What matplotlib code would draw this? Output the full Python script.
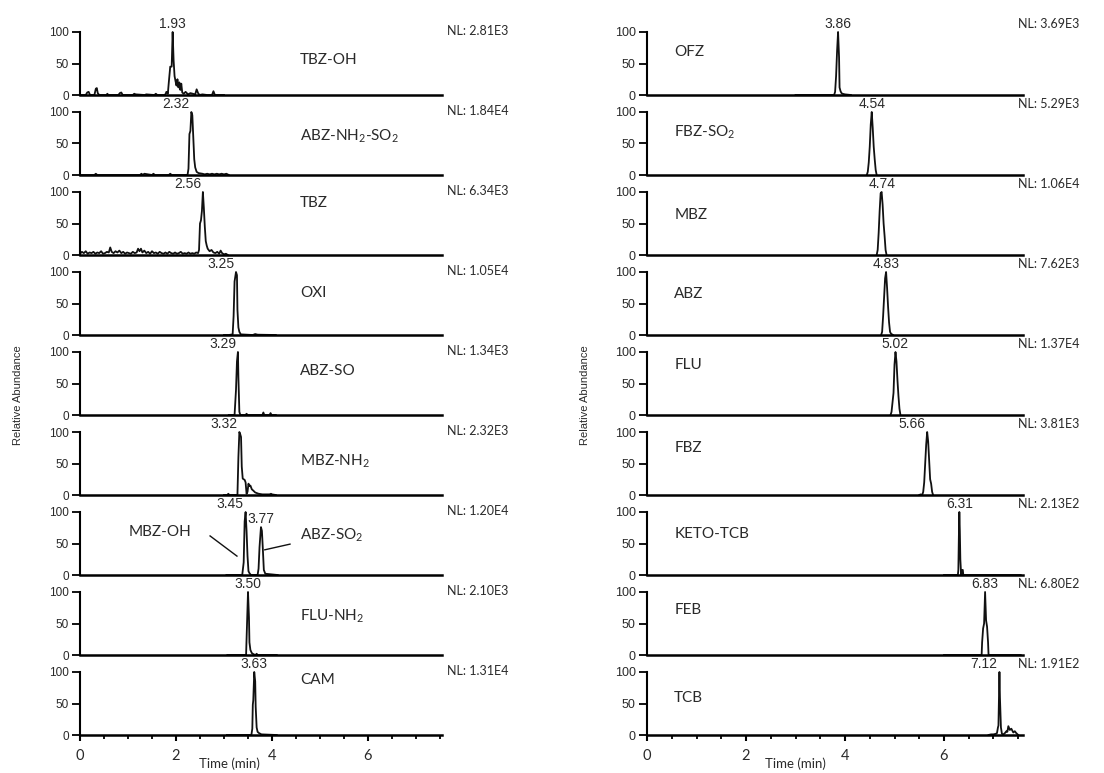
import numpy as np
import matplotlib
matplotlib.use('Agg')
import matplotlib.pyplot as plt
from matplotlib.ticker import MultipleLocator

# === traces: (time [min], relative abundance [%]) ===
tbz_oh = [(0.00, 0), (0.12, 0), (0.15, 4), (0.18, 5), (0.21, 0), (0.30, 0), (0.33, 10), (0.35, 11),
          (0.37, 3), (0.40, 0), (0.55, 0), (0.57, 2), (0.59, 0), (0.80, 0), (0.83, 3), (0.86, 4),
          (0.89, 0), (1.10, 0), (1.13, 2), (1.16, 1), (1.35, 0), (1.38, 1), (1.55, 0), (1.58, 2),
          (1.61, 0), (1.75, 0), (1.78, 1), (1.80, 5), (1.83, 2), (1.85, 20), (1.88, 45), (1.91, 45),
          (1.93, 100), (1.95, 55), (1.97, 30), (1.99, 22), (2.01, 15), (2.03, 25), (2.05, 12),
          (2.07, 20), (2.09, 8), (2.11, 18), (2.13, 4), (2.16, 2), (2.20, 5), (2.25, 1), (2.30, 3),
          (2.40, 1), (2.43, 9), (2.46, 3), (2.49, 0), (2.55, 1), (2.65, 0), (2.75, 0), (2.78, 6),
          (2.81, 0), (3.00, 0)]
abz_nh2_so2 = [(0.00, 0), (0.30, 0), (0.33, 2), (0.36, 0), (1.25, 0), (1.28, 2), (1.31, 0), (1.34, 2),
               (1.50, 0), (1.53, 2), (1.56, 0), (1.85, 0), (1.88, 2), (1.91, 0), (2.24, 0), (2.26, 10),
               (2.28, 65), (2.30, 70), (2.32, 100), (2.34, 95), (2.36, 60), (2.38, 25), (2.40, 12),
               (2.43, 5), (2.47, 3), (2.55, 2), (2.60, 1), (2.65, 2), (2.70, 1), (2.75, 2), (2.80, 1),
               (2.85, 2), (2.90, 1), (2.95, 2), (3.00, 1), (3.05, 2), (3.10, 0)]
tbz = [(0.00, 2), (0.04, 5), (0.08, 3), (0.12, 6), (0.16, 2), (0.20, 4), (0.24, 3), (0.28, 5),
       (0.32, 2), (0.36, 4), (0.40, 3), (0.44, 6), (0.48, 2), (0.52, 3), (0.56, 5), (0.60, 4),
       (0.63, 12), (0.66, 5), (0.70, 3), (0.74, 6), (0.78, 4), (0.82, 7), (0.86, 3), (0.90, 5),
       (0.94, 2), (0.98, 4), (1.02, 3), (1.06, 2), (1.10, 5), (1.14, 3), (1.18, 4), (1.21, 10),
       (1.24, 6), (1.27, 10), (1.30, 4), (1.34, 7), (1.38, 3), (1.42, 5), (1.46, 2), (1.50, 6),
       (1.54, 3), (1.58, 4), (1.62, 2), (1.66, 5), (1.70, 3), (1.74, 2), (1.78, 4), (1.82, 2),
       (1.86, 5), (1.90, 3), (1.94, 2), (1.98, 4), (2.02, 2), (2.06, 3), (2.10, 5), (2.14, 2),
       (2.18, 3), (2.22, 2), (2.26, 4), (2.30, 2), (2.34, 3), (2.38, 2), (2.42, 4), (2.46, 3),
       (2.48, 8), (2.50, 50), (2.52, 55), (2.54, 70), (2.56, 100), (2.58, 75), (2.60, 45),
       (2.62, 22), (2.64, 15), (2.66, 10), (2.70, 6), (2.74, 8), (2.78, 4), (2.82, 3), (2.86, 5),
       (2.90, 2), (2.93, 7), (2.96, 3), (3.00, 1), (3.04, 2), (3.08, 0)]
oxi = [(3.00, 0), (3.10, 0), (3.18, 1), (3.20, 30), (3.22, 85), (3.25, 100), (3.27, 95), (3.28, 40),
       (3.30, 12), (3.32, 5), (3.35, 1), (3.60, 0), (3.65, 1.5), (3.70, 0.5), (4.08, 0)]
abz_so = [(3.10, 0), (3.22, 0), (3.25, 40), (3.27, 85), (3.29, 100), (3.30, 60), (3.32, 5), (3.34, 0),
          (3.45, 0), (3.47, 2), (3.49, 0), (3.80, 0), (3.82, 4), (3.84, 0), (3.95, 0), (3.97, 3),
          (3.99, 0), (4.08, 0)]
mbz_nh2 = [(3.00, 0), (3.07, 0), (3.09, 2), (3.11, 0), (3.28, 0), (3.30, 60), (3.32, 100), (3.34, 96),
           (3.355, 92), (3.37, 45), (3.39, 26), (3.43, 24), (3.45, 20), (3.47, 2), (3.49, 5),
           (3.51, 18), (3.53, 14), (3.55, 15), (3.58, 9), (3.61, 7), (3.65, 4), (3.72, 2), (3.80, 1),
           (3.95, 1), (3.98, 2), (4.00, 1), (4.08, 0)]
mbz_oh_abz_so2 = [(3.05, 0), (3.38, 0), (3.41, 20), (3.43, 85), (3.45, 100), (3.47, 70), (3.49, 30),
                  (3.51, 6), (3.53, 3), (3.56, 0), (3.70, 0), (3.72, 10), (3.74, 44), (3.75, 55),
                  (3.77, 76), (3.79, 70), (3.81, 40), (3.83, 8), (3.86, 2), (4.12, 0)]
flu_nh2 = [(3.07, 0), (3.46, 0), (3.48, 50), (3.50, 100), (3.52, 60), (3.53, 20), (3.55, 8),
           (3.58, 3), (3.62, 1), (3.66, 0), (3.68, 2), (3.70, 0), (4.10, 0)]
cam = [(3.06, 0), (3.57, 0), (3.59, 10), (3.60, 48), (3.61, 55), (3.63, 100), (3.65, 85), (3.66, 45),
       (3.68, 12), (3.70, 5), (3.73, 3), (3.78, 1), (4.10, 0)]

ofz = [(3.00, 0), (3.78, 0), (3.80, 5), (3.82, 30), (3.84, 70), (3.86, 100), (3.88, 60), (3.89, 12),
       (3.91, 6), (3.93, 3), (3.95, 2), (4.00, 1), (4.12, 0)]
fbz_so2 = [(4.44, 0), (4.46, 5), (4.48, 20), (4.50, 45), (4.52, 80), (4.54, 100), (4.56, 75),
           (4.58, 45), (4.60, 25), (4.62, 8), (4.64, 0)]
mbz = [(4.64, 0), (4.66, 8), (4.68, 35), (4.70, 70), (4.72, 98), (4.74, 100), (4.76, 80), (4.78, 50),
       (4.80, 30), (4.82, 8), (4.84, 0)]
abz = [(4.73, 0), (4.75, 5), (4.77, 30), (4.79, 60), (4.81, 90), (4.83, 100), (4.85, 75), (4.87, 45),
       (4.89, 20), (4.91, 5), (4.93, 2), (4.97, 0)]
flu = [(4.92, 0), (4.94, 5), (4.96, 20), (4.98, 35), (5.00, 80), (5.02, 100), (5.04, 85), (5.06, 55),
       (5.08, 30), (5.10, 10), (5.12, 0)]
fbz = [(5.50, 0), (5.53, 1), (5.56, 0), (5.58, 5), (5.60, 20), (5.62, 50), (5.64, 80), (5.66, 100),
       (5.68, 85), (5.70, 55), (5.72, 25), (5.74, 18), (5.76, 5), (5.78, 0)]
keto_tcb = [(6.00, 0), (6.28, 0), (6.29, 8), (6.30, 60), (6.31, 100), (6.32, 70), (6.33, 25),
            (6.34, 10), (6.35, 0), (6.36, 8), (6.38, 8), (6.39, 0), (7.55, 0)]
feb = [(6.00, 0), (6.76, 0), (6.77, 20), (6.79, 42), (6.81, 50), (6.83, 100), (6.85, 55), (6.87, 45),
       (6.89, 20), (6.90, 0), (7.55, 0)]
tcb = [(6.90, 0), (6.95, 1), (7.00, 1), (7.05, 2), (7.07, 3), (7.09, 12), (7.10, 15), (7.12, 100),
       (7.13, 60), (7.15, 12), (7.17, 2), (7.20, 1), (7.23, 3), (7.26, 6), (7.28, 5), (7.30, 14),
       (7.33, 8), (7.36, 10), (7.40, 4), (7.43, 6), (7.46, 3), (7.50, 0)]

left_traces = [tbz_oh, abz_nh2_so2, tbz, oxi, abz_so, mbz_nh2, mbz_oh_abz_so2, flu_nh2, cam]
right_traces = [ofz, fbz_so2, mbz, abz, flu, fbz, keto_tcb, feb, tcb]

left_names = ['TBZ-OH', r'ABZ-NH$_2$-SO$_2$', 'TBZ', 'OXI', 'ABZ-SO', r'MBZ-NH$_2$', '',
              r'FLU-NH$_2$', 'CAM']
right_names = ['OFZ', r'FBZ-SO$_2$', 'MBZ', 'ABZ', 'FLU', 'FBZ', 'KETO-TCB', 'FEB', 'TCB']

left_nl = ['2.81E3', '1.84E4', '6.34E3', '1.05E4', '1.34E3', '2.32E3', '1.20E4', '2.10E3', '1.31E4']
right_nl = ['3.69E3', '5.29E3', '1.06E4', '7.62E3', '1.37E4', '3.81E3', '2.13E2', '6.80E2', '1.91E2']

left_rt = [[1.93], [2.32], [2.56], [3.25], [3.29], [3.32], [3.45, 3.77], [3.50], [3.63]]
right_rt = [[3.86], [4.54], [4.74], [4.83], [5.02], [5.66], [6.31], [6.83], [7.12]]

# === label placement ===
left_rt_ha = [['center'], ['right'], ['right'], ['right'], ['right'], ['right'],
              ['right', 'center'], ['center'], ['center']]
right_rt_ha = [['center'], ['center'], ['center'], ['center'], ['center'], ['right'],
               ['center'], ['center'], ['right']]
left_name_y = [56, 62, 83, 66, 70, 53, 0, 62, 87]
right_name_y = [68, 68, 63, 65, 79, 75, 65, 71, 58]

# === figure setup ===
W, H = 1104, 773
fig = plt.figure(figsize=(W / 100, H / 100), dpi=100)
plt.rcParams['mathtext.fontset'] = 'custom'
plt.rcParams['mathtext.rm'] = 'Lato'
plt.rcParams['mathtext.it'] = 'Lato:italic'

ink = '#111111'
txt = '#2a2a2a'
px_per_unit = 0.63
panel_zero = [95 + 80 * i for i in range(9)]


def draw_column(traces, names, nls, rts, rt_ha, name_y, x0, px_per_min, xmax, name_x,
                nl_x, nl_y, tick_size):
    width = xmax * px_per_min
    axes = []
    for i, trace in enumerate(traces):
        zero = panel_zero[i]
        ax = fig.add_axes([x0 / W, 1 - (zero + 3) / H, width / W, 80 / H])
        ax.set_facecolor('none')
        ax.set_xlim(0, xmax)
        ax.set_ylim(-3 / px_per_unit, 77 / px_per_unit)

        t, v = np.array(trace).T
        ax.plot(t, v, color=ink, lw=1.3)

        # spines
        for s in ['top', 'right']:
            ax.spines[s].set_visible(False)
        ax.spines['left'].set_bounds(0, 100)
        ax.spines['left'].set_linewidth(1.5)
        ax.spines['bottom'].set_position(('data', 0))
        ax.spines['bottom'].set_linewidth(1.8)

        ax.set_yticks([0, 50, 100])
        ax.tick_params(axis='y', direction='out', length=6, width=1.3, pad=2,
                       labelsize=tick_size, labelcolor=txt)
        for lab in ax.get_yticklabels():
            lab.set_family('Liberation Sans')

        if i == len(traces) - 1:
            ax.set_xticks([0, 2, 4, 6])
            ax.xaxis.set_minor_locator(MultipleLocator(0.5))
            ax.tick_params(axis='x', which='major', direction='out', length=4, width=1.5,
                           pad=6, labelsize=10.5, labelcolor=txt)
            ax.tick_params(axis='x', which='minor', direction='out', length=3, width=1.3)
            for lab in ax.get_xticklabels():
                lab.set_family('Lato')
        else:
            ax.tick_params(axis='x', which='both', bottom=False, labelbottom=False)

        # retention time labels
        for rt, ha in zip(rts[i], rt_ha[i]):
            top = np.interp(rt, t, v)
            xt = rt - 0.04 if ha == 'right' else rt
            ax.text(xt, top + 1, f'{rt:.2f}', ha=ha, va='bottom', fontsize=10,
                    family='Liberation Sans', color=txt)

        if names[i]:
            ax.text(name_x, name_y[i], names[i], ha='left', va='center', fontsize=11,
                    family='Lato', color=txt)
        ax.text(nl_x, nl_y, f'NL: {nls[i]}', transform=ax.get_yaxis_transform(),
                ha='left', va='center', fontsize=9, family='Lato', color=txt)
        axes.append(ax)
    return axes


left_axes = draw_column(left_traces, left_names, left_nl, left_rt, left_rt_ha, left_name_y,
                        80, 48, 7.55, 4.58, 1.012, 102, 8.5)
right_axes = draw_column(right_traces, right_names, right_nl, right_rt, right_rt_ha, right_name_y,
                         647, 49.5, 7.6, 0.55, 0.985, 112, 9)

# === MBZ-OH / ABZ-SO2 callouts ===
ax_pair = left_axes[6]
ax_pair.text(1.67, 68, 'MBZ-OH', ha='center', va='center', fontsize=11, family='Lato', color=txt)
ax_pair.text(4.58, 63, r'ABZ-SO$_2$', ha='left', va='center', fontsize=11, family='Lato', color=txt)
ax_pair.plot([2.71, 3.27], [62, 30], color=ink, lw=1.0)
ax_pair.plot([4.375, 3.85], [49, 40], color=ink, lw=1.0)

# === axis titles ===
for xc in [18, 585]:
    fig.text(xc / W, 1 - 395 / H, 'Relative Abundance', rotation=90, ha='center', va='center',
             fontsize=8, family='Liberation Sans', color=txt)
for xc in [229, 795]:
    fig.text(xc / W, 1 - 764 / H, 'Time (min)', ha='center', va='center', fontsize=9.5,
             family='Lato', color=txt)

fig.savefig('out.png', dpi=100, facecolor='white')
